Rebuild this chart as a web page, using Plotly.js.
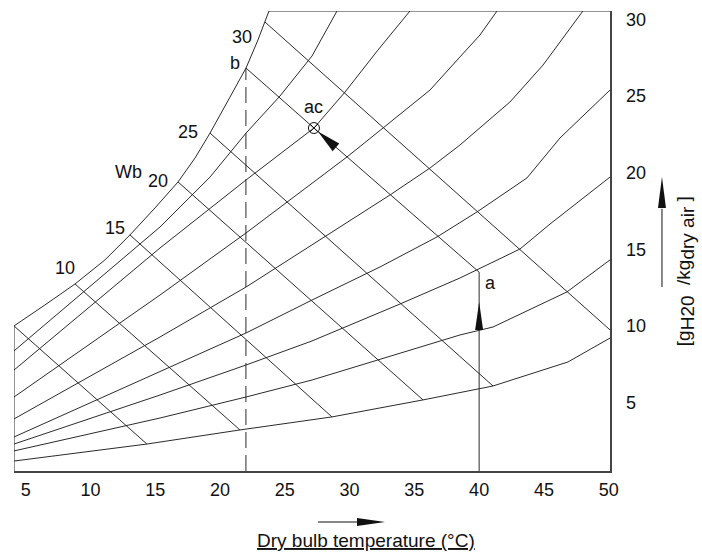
<!DOCTYPE html>
<html><head><meta charset="utf-8">
<script src="https://cdn.plot.ly/plotly-3.0.1.min.js"></script>
<style>html,body{margin:0;padding:0;background:#fff}#chart{width:702px;height:554px}</style>
</head><body><div id="chart"></div>
<script>
// ---- axes ----
const xRange = [4.1, 50.1];
const yRange = [0.52, 30.55];
const xTicks = [5, 10, 15, 20, 25, 30, 35, 40, 45, 50];
const yTicks = [5, 10, 15, 20, 25, 30];

// ---- saturation curve ----
const satT = [4.10, 6.49, 8.81, 11.12, 13.05, 14.98, 16.76, 18.07, 19.23, 20.77, 22.01, 22.93, 23.47, 23.78];
const satW = [9.99, 11.36, 12.73, 14.30, 15.93, 17.69, 19.39, 20.95, 22.58, 24.93, 26.83, 28.66, 29.83, 30.55];

// ---- relative humidity curves (top to bottom) ----
const rh1T = [4.10, 8.81, 13.05, 15.37, 19.23, 22.01, 24.63, 27.10, 29.03];
const rh1W = [8.36, 11.75, 14.82, 16.45, 19.71, 22.58, 25.00, 27.61, 30.55];
const rh2T = [4.10, 15.37, 22.01, 27.25, 29.65, 32.19, 34.66];
const rh2W = [7.11, 15.08, 19.52, 22.91, 25.26, 28.00, 30.55];
const rh3T = [4.10, 15.37, 22.01, 26.95, 29.80, 32.58, 36.21, 38.52, 40.06, 41.38];
const rh3W = [5.35, 12.01, 16.06, 19.19, 21.02, 22.91, 25.39, 27.55, 28.98, 30.55];
const rh4T = [4.10, 15.37, 22.01, 27.10, 33.12, 36.21, 38.52, 42.38, 44.93, 48.01];
const rh4W = [3.92, 9.27, 12.53, 15.27, 18.54, 20.30, 21.80, 24.61, 27.02, 30.55];
const rh5T = [4.10, 15.37, 22.01, 27.10, 32.35, 36.75, 39.83, 43.69, 46.24, 50.10];
const rh5W = [2.74, 6.98, 9.53, 11.68, 13.84, 15.80, 17.43, 19.65, 22.26, 25.39];
const rh6T = [4.10, 15.37, 22.01, 27.10, 33.89, 38.52, 43.15, 45.47, 50.10];
const rh6W = [2.28, 5.48, 7.44, 9.01, 11.42, 13.12, 15.01, 16.64, 19.71];
const rh7T = [4.10, 15.37, 22.01, 27.10, 38.52, 41.07, 46.78, 50.10];
const rh7W = [1.83, 3.98, 5.35, 6.46, 9.40, 9.92, 12.21, 14.30];
const rh8T = [4.10, 14.36, 21.54, 28.64, 35.67, 41.07, 46.86, 50.10];
const rh8W = [1.17, 2.28, 3.20, 4.05, 5.16, 6.07, 7.64, 9.20];

// ---- wet bulb lines: start on saturation, end on lowest curve ----
const wbStartT = [4.10, 8.81, 13.05, 16.76, 19.23, 23.47];
const wbStartW = [9.99, 12.73, 15.93, 19.39, 22.58, 29.83];
const wbEndT = [14.36, 21.54, 28.64, 35.67, 41.07, 50.10];
const wbEndW = [2.28, 3.20, 4.05, 5.16, 6.07, 9.73];

// ---- process states ----
const stateNames = ['a', 'b', 'ac'];
const stateT = [40.0, 22.0, 27.25];
const stateW = [13.5, 26.83, 22.91];

const lineCol = '#2b2b2b';
const font = 'Liberation Sans, Arial, sans-serif';

function ln(x, y, extra) {
  return Object.assign({x: x, y: y, type: 'scatter', mode: 'lines', hoverinfo: 'skip',
    line: {color: lineCol, width: 1}}, extra || {});
}

const traces = [];
traces.push(ln([xRange[0]].concat(satT, [xRange[1]]), [yRange[0]].concat(satW, [yRange[1]])));
[[rh1T, rh1W], [rh2T, rh2W], [rh3T, rh3W], [rh4T, rh4W], [rh5T, rh5W], [rh6T, rh6W], [rh7T, rh7W], [rh8T, rh8W]]
  .forEach(c => traces.push(ln(c[0], c[1])));
for (let i = 0; i < wbStartT.length; i++) {
  traces.push(ln([wbStartT[i], wbEndT[i]], [wbStartW[i], wbEndW[i]]));
}
traces.push(ln([stateT[1], stateT[2], stateT[0]], [stateW[1], stateW[2], stateW[0]]));
traces.push(ln([stateT[0], stateT[0]], [yRange[0], stateW[0]]));
traces.push(ln([stateT[1], stateT[1]], [yRange[0], stateW[1]], {line: {color: lineCol, width: 1, dash: '16px,7px'}}));
traces.push({x: [stateT[2]], y: [stateW[2]], type: 'scatter', mode: 'markers', hoverinfo: 'skip',
  marker: {symbol: 'circle-x-open', size: 11, color: '#111', line: {width: 1, color: '#111'}}});

const lblFont = {family: font, size: 18, color: '#111'};
const ann = [];
function lab(t, x, y) { ann.push({text: t, x: x, y: y, xref: 'x', yref: 'y', showarrow: false, font: lblFont, xanchor: 'center', yanchor: 'middle'}); }
lab('10', 8.04, 13.77);
lab('15', 11.90, 16.38);
lab('Wb', 12.90, 20.04);
lab('20', 15.21, 19.45);
lab('25', 17.53, 22.65);
lab('30', 21.70, 28.85);
lab('b', 21.16, 27.15);
lab('ac', 27.18, 24.28);
lab('a', 40.84, 12.79);
ann.push({text: '<u>Dry bulb temperature (°C)</u>', xref: 'paper', yref: 'paper', x: 0.5906, y: -0.152,
  showarrow: false, font: {family: font, size: 19, color: '#111'}, xanchor: 'center', yanchor: 'middle'});
ann.push({text: '[g<sub><span style="font-size:19px">H20</span></sub>  /kg<sub><span style="font-size:19px">dry air</span></sub> ]',
  xref: 'paper', yref: 'paper', x: 1.128, y: 0.435,
  textangle: -90, showarrow: false, font: {family: font, size: 19, color: '#111'}, xanchor: 'center', yanchor: 'middle'});

const black = {color: '#111', width: 1};
const shapes = [
  {type: 'line', xref: 'paper', yref: 'paper', x0: 0.510, x1: 0.58, y0: -0.1109, y1: -0.1109, line: black},
  {type: 'path', xref: 'paper', yref: 'paper', xsizemode: 'pixel', ysizemode: 'pixel', xanchor: 0.6225, yanchor: -0.1109,
    path: 'M0,0 L-28,4 L-28,-4 Z', fillcolor: '#111', line: {width: 0}},
  {type: 'line', xref: 'paper', yref: 'paper', x0: 1.0872, x1: 1.0872, y0: 0.40, y1: 0.57, line: black},
  {type: 'path', xref: 'paper', yref: 'paper', xsizemode: 'pixel', ysizemode: 'pixel', xanchor: 1.0872, yanchor: 0.6391,
    path: 'M0,0 L-4,-31 L4,-31 Z', fillcolor: '#111', line: {width: 0}},
  {type: 'path', xref: 'x', yref: 'y', xsizemode: 'pixel', ysizemode: 'pixel', xanchor: stateT[0], yanchor: 11.55,
    path: 'M0,0 L-4,-28 L4,-28 Z', fillcolor: '#111', line: {width: 0}},
  {type: 'path', xref: 'x', yref: 'y', xsizemode: 'pixel', ysizemode: 'pixel', xanchor: 27.56, yanchor: 22.68,
    path: 'M0,0 L14.7,-19.6 L21.3,-12 Z', fillcolor: '#111', line: {width: 0}}
];

const tickFont = {family: font, size: 18, color: '#111'};
const layout = {
  width: 702, height: 554,
  margin: {l: 14, r: 92, t: 11, b: 83},
  paper_bgcolor: '#fff', plot_bgcolor: '#fff',
  showlegend: false,
  xaxis: {range: xRange, tickvals: xTicks, ticktext: xTicks.map(String), showgrid: false, zeroline: false,
    showline: true, linecolor: '#444', linewidth: 1.5, ticks: 'outside', ticklen: 2, tickcolor: 'rgba(0,0,0,0)',
    tickfont: tickFont, fixedrange: true},
  yaxis: {range: yRange, side: 'right', tickvals: yTicks, ticktext: yTicks.map(String), showgrid: false, zeroline: false,
    showline: true, linecolor: '#444', linewidth: 1.5, ticks: 'outside', ticklen: 11, tickcolor: 'rgba(0,0,0,0)',
    tickfont: tickFont, fixedrange: true},
  annotations: ann,
  shapes: shapes
};
Plotly.newPlot('chart', traces, layout, {staticPlot: true, displayModeBar: false});
</script></body></html>
